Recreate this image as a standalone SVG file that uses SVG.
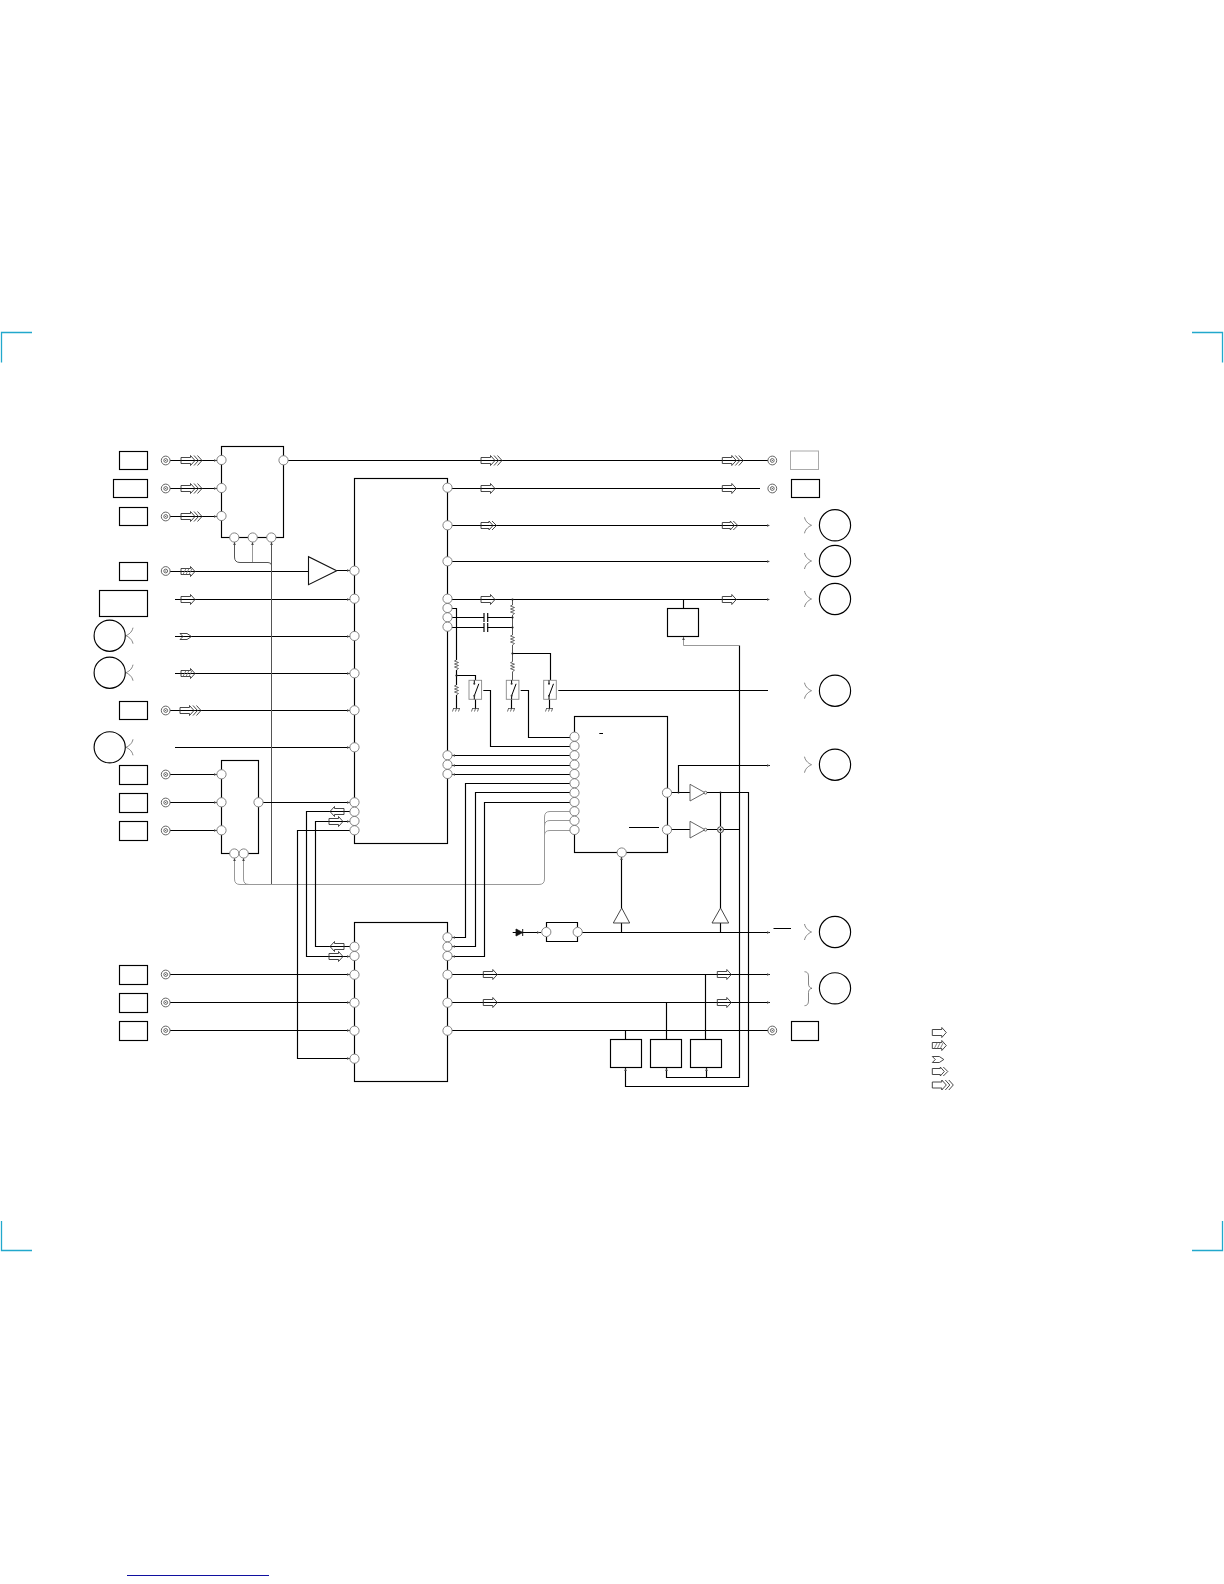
<svg xmlns="http://www.w3.org/2000/svg" xmlns:xlink="http://www.w3.org/1999/xlink" width="1224" height="1584" viewBox="0 0 1224 1584">
<style>
.w{fill:none;stroke:#000;stroke-width:1.15}
.g{fill:none;stroke:#999;stroke-width:1}
.gd{fill:none;stroke:#555;stroke-width:1}
.b{fill:#fff;stroke:#111;stroke-width:1.1}
.bx{fill:none;stroke:#000;stroke-width:1.15}
.p{fill:#fff;stroke:#777;stroke-width:.9}
.a{fill:none;stroke:#333;stroke-width:.9}
.h{fill:none;stroke:#666;stroke-width:.8}
.j{fill:#fff;stroke:#555;stroke-width:.9}
.c{fill:none;stroke:#22a8cc;stroke-width:1.3}
.r{fill:none;stroke:#444;stroke-width:.8}
.s{fill:#fff;stroke:#888;stroke-width:.9}
.t{fill:#444}
.d{fill:#222}
</style>
<defs>
<g id="pin"><circle r="4.6" class="p"/></g>
<g id="jack"><circle r="4.4" class="j"/><circle r="1.9" class="j"/><circle r=".6" fill="#333"/></g>
<path id="a1" class="a" d="M0,-3H9.5V-5L14,0L9.5,5V3H0Z"/>
<g id="a1h"><use xlink:href="#a1"/><path class="h" d="M2,3L5,-3M5,3L8,-3M8,3L11,-3"/></g>
<path id="a1n" class="a" d="M0,-3H7L11.5,0L7,3H0L3,0Z"/>
<g id="a2"><path class="a" d="M0,-3H8V-4.5L12,0L8,4.5V3H0Z"/><path class="a" d="M11,-4.5L15.5,0L11,4.5"/></g>
<g id="a3"><path class="a" d="M0,-3H9.5V-5L14,0L9.5,5V3H0Z"/><path class="a" d="M13,-5L17.5,0L13,5M16.5,-5L21,0L16.5,5"/></g>
<path id="al" class="a" d="M14,-3H4.5V-5L0,0L4.5,5V3H14Z"/>
<path id="res" class="r" d="M0,-5L-2,-4L2,-2.5L-2,-1L2,.5L-2,2L2,3.5L0,5"/>
<path id="gnd" class="r" d="M-3.5,0H3.5M-3,0L-4,3M0,0L-1,3M3,0L2,3"/>
<path id="bl" fill="none" stroke="#666" stroke-width=".8" d="M7,-8C6,-3 2,-1 0,0C2,1 6,3 7,8"/>
<path id="br" fill="none" stroke="#666" stroke-width=".8" d="M0,-8C1,-3 5,-1 7,0C5,1 1,3 0,8"/>
<g id="sw"><rect x="-6.3" y="-9.5" width="12.6" height="19" class="s"/><path d="M-1,-9.5V-6M-1,6V9.5M-1,6L3.5,-6" fill="none" stroke="#000" stroke-width="1"/><circle cx="-1" cy="-6" r="1" fill="#333"/><circle cx="-1" cy="6" r="1" fill="#333"/></g>
<path id="tr" class="t" d="M-3,-1.3L0,0L-3,1.3Z"/>
<path id="tl" class="t" d="M3,-1.3L0,0L3,1.3Z"/>
<path id="tu" class="t" d="M-1.3,3L0,0L1.3,3Z"/>
</defs>

<g id="crop-marks">
<path class="c" d="M1.5,362.5V332.5H32"/>
<path class="c" d="M1.5,1221V1250.5H32"/>
<path class="c" d="M1222.5,362.5V332.5H1192"/>
<path class="c" d="M1222.5,1221V1250.5H1192"/>
</g>
<path id="page-rule" d="M127,1575.5H269" fill="none" stroke="#1010a0" stroke-width="1.1"/>

<g id="connectors">
<path class="w" d="M165.7,460.5H218M165.7,488.5H218M165.7,516.5H218"/>
<path class="w" d="M283.5,460.5H772M447.5,488.5H760M447.5,525.5H769M447.5,561.5H769M447.5,599.5H769"/>
<path class="w" d="M165.7,571.5H308M175,599.5H351M175,636.5H351M175,673.5H351M165.7,710.5H351M175,747.5H351M336.7,570.5H351"/>
<path class="gd" d="M271.5,541V884.5M234.5,541V557Q234.5,562.5 240,562.5H268Q271,562.5 271.5,565"/>
<path class="g" d="M252.5,541V562"/>
<path class="g" d="M234.5,857V879Q234.5,884.5 240,884.5H539Q544.5,884.5 544.5,879V817Q544.5,811.5 550,811.5H570M243.5,857V879Q243.5,884.5 249,884.5M544.5,826Q544.5,820.5 550,820.5H570M544.5,835Q544.5,830.5 550,830.5H570"/>
<path class="w" d="M165.7,774.5H218M165.7,802.5H218M165.7,830.5H218M258.5,802.5H351"/>
<path class="w" d="M351,811.5H306.5V956.5H351M351,821.5H315.5V946.5H351M351,830.5H297.5V1058.5H351"/>
<path class="w" d="M165.7,974.5H351M165.7,1002.5H351M165.7,1030.5H351"/>
<path class="w" d="M447.5,974.5H770M447.5,1002.5H770M447.5,1030.5H772"/>
<path class="w" d="M447.5,608.5H456.5V660M447.5,617.5H484M447.5,627.5H484M487.5,617.5H512.5M487.5,627.5H512.5M456.5,670V685M456.5,695V708.5M456.5,675.5H475.5V680"/>
<path class="gd" d="M512.5,599.5V605M512.5,615V635M512.5,645V661.7M512.5,671.7V680"/>
<path class="w" d="M512.5,653.5H550.5V680"/>
<path class="w" d="M483.3,690.5H490.5V746.5H570M520.7,690.5H528.5V737.5H570M558.3,690.5H768"/>
<path class="w" d="M450,755.5H570M450,765.5H570M450,774.5H570"/>
<path class="w" d="M570,783.5H465.5V937.5H450M570,792.5H475.5V946.5H450M570,802.5H484.5V956.5H450"/>
<path class="w" d="M599.3,733.5H603M629,827.5H659"/>
<path class="w" d="M667,792.5H690M667,829.5H690M707,792.5H748.5V1086.5H625.5V1068M707,829.5H717M723.3,829.5H739"/>
<path class="w" d="M678.5,792.5V765.5H770"/>
<path class="w" d="M739.5,645.5V1077.5H666.5V1068M706.5,1077.5V1068"/>
<path class="g" d="M739.5,645.5H683.5V637"/>
<path class="w" d="M683.5,608V599.5"/>
<path class="w" d="M720.5,792.5V826M720.5,833V908M720.5,923V932.5M621.5,857V908M621.5,923V932.5"/>
<path class="w" d="M581.7,932.5H770M773.5,928.5H791M512.7,932.5H541"/>
<path class="w" d="M625.5,1039.3V1030.5M666.5,1039.3V1002.5M705.5,1039.3V974.5"/>
<g id="tips">
<use xlink:href="#tr" x="217" y="460.5"/><use xlink:href="#tr" x="217" y="488.5"/><use xlink:href="#tr" x="217" y="516.5"/>
<use xlink:href="#tr" x="217" y="774.5"/><use xlink:href="#tr" x="217" y="802.5"/><use xlink:href="#tr" x="217" y="830.5"/>
<use xlink:href="#tr" x="350" y="570.5"/><use xlink:href="#tr" x="350" y="599.5"/><use xlink:href="#tr" x="350" y="636.5"/><use xlink:href="#tr" x="350" y="673.5"/><use xlink:href="#tr" x="350" y="710.5"/><use xlink:href="#tr" x="350" y="747.5"/>
<use xlink:href="#tr" x="350" y="802.5"/><use xlink:href="#tr" x="350" y="821.5"/><use xlink:href="#tr" x="350" y="956.5"/><use xlink:href="#tr" x="350" y="974.5"/><use xlink:href="#tr" x="350" y="1002.5"/><use xlink:href="#tr" x="350" y="1030.5"/><use xlink:href="#tr" x="350" y="1058.5"/>
<use xlink:href="#tr" x="540" y="932.5"/><use xlink:href="#tr" x="770" y="525.5"/><use xlink:href="#tr" x="770" y="561.5"/><use xlink:href="#tr" x="770" y="599.5"/><use xlink:href="#tr" x="770" y="765.5"/><use xlink:href="#tr" x="770" y="932.5"/><use xlink:href="#tr" x="770" y="974.5"/><use xlink:href="#tr" x="770" y="1002.5"/>
<use xlink:href="#tl" x="452" y="755.5"/><use xlink:href="#tl" x="452" y="765.5"/><use xlink:href="#tl" x="452" y="774.5"/><use xlink:href="#tl" x="452" y="937.5"/><use xlink:href="#tl" x="452" y="946.5"/><use xlink:href="#tl" x="452" y="956.5"/>
<use xlink:href="#tu" x="234.5" y="542"/><use xlink:href="#tu" x="252.5" y="542"/><use xlink:href="#tu" x="271.5" y="542"/><use xlink:href="#tu" x="234.5" y="858"/><use xlink:href="#tu" x="243.5" y="858"/>
<use xlink:href="#tu" x="621.5" y="857"/><use xlink:href="#tu" x="683.5" y="637"/><use xlink:href="#tu" x="625.5" y="1068"/><use xlink:href="#tu" x="666.5" y="1068"/><use xlink:href="#tu" x="706.5" y="1068"/>
</g>
</g>

<g id="signal-arrows">
<use xlink:href="#a3" x="181" y="460.5"/><use xlink:href="#a3" x="181" y="488.5"/><use xlink:href="#a3" x="181" y="516.5"/>
<use xlink:href="#a1h" x="181" y="571.5"/><use xlink:href="#a1" x="181" y="599.5"/><use xlink:href="#a1n" x="180" y="636.5"/><use xlink:href="#a1h" x="181" y="673.5"/><use xlink:href="#a3" x="180" y="710.5"/>
<use xlink:href="#a3" x="481" y="460.5"/><use xlink:href="#a3" x="722.3" y="460.5"/><use xlink:href="#a1" x="481" y="488.5"/><use xlink:href="#a1" x="722.3" y="488.5"/>
<use xlink:href="#a2" x="481" y="525.5"/><use xlink:href="#a2" x="722.3" y="525.5"/><use xlink:href="#a1" x="481" y="599.5"/><use xlink:href="#a1" x="722.3" y="599.5"/>
<use xlink:href="#al" x="330" y="811.5"/><use xlink:href="#a1" x="329" y="821.5"/><use xlink:href="#al" x="330" y="946.5"/><use xlink:href="#a1" x="329" y="956.5"/>
<use xlink:href="#a1" x="483.3" y="974.5"/><use xlink:href="#a1" x="483.3" y="1002.5"/><use xlink:href="#a1" x="717.3" y="974.5"/><use xlink:href="#a1" x="717.3" y="1002.5"/>
</g>

<g id="legend">
<use xlink:href="#a1" x="932.3" y="1032.5"/><use xlink:href="#a1h" x="932.3" y="1045.5"/><use xlink:href="#a1n" x="932.3" y="1059.5"/><use xlink:href="#a2" x="932.3" y="1071.5"/><use xlink:href="#a3" x="932.3" y="1085"/>
</g>

<g id="left-terminals">
<rect class="bx" x="119.5" y="451.5" width="28" height="18"/>
<rect class="bx" x="113.5" y="479.5" width="34" height="18"/>
<rect class="bx" x="119.5" y="507.5" width="28" height="18"/>
<rect class="bx" x="119.5" y="562.5" width="28" height="18"/>
<rect class="bx" x="99.5" y="590.5" width="48" height="26"/>
<rect class="bx" x="119.5" y="701.5" width="28" height="18"/>
<rect class="bx" x="119.5" y="765.5" width="28" height="19"/>
<rect class="bx" x="119.5" y="793.5" width="28" height="19"/>
<rect class="bx" x="119.5" y="821.5" width="28" height="19"/>
<rect class="bx" x="119.5" y="965.5" width="28" height="19"/>
<rect class="bx" x="119.5" y="993.5" width="28" height="19"/>
<rect class="bx" x="119.5" y="1021.5" width="28" height="19"/>
<circle class="bx" cx="109.7" cy="635.7" r="15.6"/><use xlink:href="#bl" x="126" y="635.7"/>
<circle class="bx" cx="109.7" cy="672.7" r="15.6"/><use xlink:href="#bl" x="126" y="672.7"/>
<circle class="bx" cx="109.7" cy="747.3" r="15.6"/><use xlink:href="#bl" x="126" y="747.3"/>
<use xlink:href="#jack" x="165.7" y="460.5"/><use xlink:href="#jack" x="165.7" y="488.5"/><use xlink:href="#jack" x="165.7" y="516.5"/><use xlink:href="#jack" x="165.7" y="571"/><use xlink:href="#jack" x="165.7" y="710.5"/>
<use xlink:href="#jack" x="165.7" y="774.5"/><use xlink:href="#jack" x="165.7" y="802.5"/><use xlink:href="#jack" x="165.7" y="830.5"/><use xlink:href="#jack" x="165.7" y="974.5"/><use xlink:href="#jack" x="165.7" y="1002.5"/><use xlink:href="#jack" x="165.7" y="1030.5"/>
</g>

<g id="box-a">
<rect class="bx" x="221.5" y="446.5" width="62" height="91"/>
<use xlink:href="#pin" x="221.5" y="460"/><use xlink:href="#pin" x="221.5" y="488"/><use xlink:href="#pin" x="221.5" y="516"/><use xlink:href="#pin" x="283.5" y="460.3"/>
<use xlink:href="#pin" x="234.3" y="537.5"/><use xlink:href="#pin" x="252.7" y="537.5"/><use xlink:href="#pin" x="271.3" y="537.5"/>
</g>

<g id="box-b">
<rect class="bx" x="221.5" y="760.5" width="37" height="93"/>
<use xlink:href="#pin" x="221.5" y="774.3"/><use xlink:href="#pin" x="221.5" y="802.3"/><use xlink:href="#pin" x="221.5" y="830.3"/><use xlink:href="#pin" x="258.5" y="802.3"/>
<use xlink:href="#pin" x="234.3" y="853.5"/><use xlink:href="#pin" x="243.7" y="853.5"/>
</g>

<path id="amp" class="b" d="M308.5,556.7V584.7L336.7,570.7Z"/>

<g id="ic-1">
<rect class="bx" x="354.5" y="478.5" width="93" height="365"/>
<use xlink:href="#pin" x="354.5" y="570.7"/><use xlink:href="#pin" x="354.5" y="598.7"/><use xlink:href="#pin" x="354.5" y="636"/><use xlink:href="#pin" x="354.5" y="673.3"/><use xlink:href="#pin" x="354.5" y="710.3"/><use xlink:href="#pin" x="354.5" y="747.3"/>
<use xlink:href="#pin" x="354.5" y="802.3"/><use xlink:href="#pin" x="354.5" y="811.7"/><use xlink:href="#pin" x="354.5" y="821"/><use xlink:href="#pin" x="354.5" y="830.3"/>
<use xlink:href="#pin" x="447.5" y="487.7"/><use xlink:href="#pin" x="447.5" y="525.3"/><use xlink:href="#pin" x="447.5" y="561.3"/><use xlink:href="#pin" x="447.5" y="598.7"/><use xlink:href="#pin" x="447.5" y="608"/><use xlink:href="#pin" x="447.5" y="617.3"/><use xlink:href="#pin" x="447.5" y="626.7"/>
<use xlink:href="#pin" x="447.5" y="755.3"/><use xlink:href="#pin" x="447.5" y="764.7"/><use xlink:href="#pin" x="447.5" y="774"/>
</g>

<g id="ic-2">
<rect class="bx" x="354.5" y="922.5" width="93" height="159"/>
<use xlink:href="#pin" x="354.5" y="946.7"/><use xlink:href="#pin" x="354.5" y="956"/><use xlink:href="#pin" x="354.5" y="974.7"/><use xlink:href="#pin" x="354.5" y="1002.7"/><use xlink:href="#pin" x="354.5" y="1030.7"/><use xlink:href="#pin" x="354.5" y="1058.7"/>
<use xlink:href="#pin" x="447.5" y="937.3"/><use xlink:href="#pin" x="447.5" y="946.7"/><use xlink:href="#pin" x="447.5" y="956"/><use xlink:href="#pin" x="447.5" y="974.7"/><use xlink:href="#pin" x="447.5" y="1002.7"/><use xlink:href="#pin" x="447.5" y="1030.7"/>
</g>

<g id="passives">
<use xlink:href="#res" x="456.5" y="665"/><use xlink:href="#res" x="456.5" y="690"/>
<use xlink:href="#res" x="512.5" y="610"/><use xlink:href="#res" x="512.5" y="640"/><use xlink:href="#res" x="512.5" y="666.7"/>
<path class="w" d="M484,613V622M487.7,613V622M484,623V632M487.7,623V632"/>
<use xlink:href="#gnd" x="456.5" y="708.5"/><use xlink:href="#gnd" x="475.5" y="708.5"/><use xlink:href="#gnd" x="511.5" y="708.5"/><use xlink:href="#gnd" x="549.5" y="708.5"/>
<path class="w" d="M475.5,699V708.5M511.5,699V708.5M549.5,699V708.5"/>
<circle cx="512.5" cy="599.5" r="1.1" class="d"/><circle cx="512.5" cy="617.5" r="1.1" class="d"/><circle cx="512.5" cy="627.5" r="1.1" class="d"/><circle cx="512.5" cy="653.5" r="1.1" class="d"/><circle cx="456.5" cy="675.5" r="1.1" class="d"/>
</g>

<g id="switch-1"><use xlink:href="#sw" x="475.3" y="689.8"/></g>
<g id="switch-2"><use xlink:href="#sw" x="512.6" y="689.8"/></g>
<g id="switch-3"><use xlink:href="#sw" x="550" y="689.8"/></g>

<g id="ic-3">
<rect class="bx" x="574.5" y="716.5" width="93" height="136"/>
<use xlink:href="#pin" x="574.5" y="736.7"/><use xlink:href="#pin" x="574.5" y="746"/><use xlink:href="#pin" x="574.5" y="755.3"/><use xlink:href="#pin" x="574.5" y="764.7"/><use xlink:href="#pin" x="574.5" y="774"/><use xlink:href="#pin" x="574.5" y="783.3"/><use xlink:href="#pin" x="574.5" y="792.7"/><use xlink:href="#pin" x="574.5" y="802"/><use xlink:href="#pin" x="574.5" y="811.3"/><use xlink:href="#pin" x="574.5" y="820.7"/><use xlink:href="#pin" x="574.5" y="830"/>
<use xlink:href="#pin" x="667" y="792.7"/><use xlink:href="#pin" x="667" y="829.7"/><use xlink:href="#pin" x="621.7" y="852.5"/>
</g>

<g id="box-d"><rect class="bx" x="667.5" y="608.5" width="31" height="28"/></g>

<g id="inverters">
<path fill="#fff" stroke="#555" stroke-width=".9" d="M690,784.3V801L705,792.7Z"/><circle cx="705.5" cy="792.7" r="1.4" fill="#fff" stroke="#333" stroke-width=".7"/>
<path fill="#fff" stroke="#555" stroke-width=".9" d="M690,821.3V838L705,829.7Z"/><circle cx="705.5" cy="829.7" r="1.4" fill="#fff" stroke="#333" stroke-width=".7"/>
<circle cx="720.5" cy="829.7" r="3" fill="#fff" stroke="#222" stroke-width=".9"/><path d="M718.7,829.7H722.3M720.5,828V831.5" stroke="#111" stroke-width=".9"/>
<circle cx="720.5" cy="792.5" r="1" class="d"/><circle cx="678.5" cy="792.5" r="1" class="d"/>
</g>
<g id="buffer-1"><path fill="#fff" stroke="#333" stroke-width=".9" d="M621.7,908L613.3,923H629.7Z"/></g>
<g id="buffer-2"><path fill="#fff" stroke="#333" stroke-width=".9" d="M720.5,908L712,923H728.7Z"/></g>

<g id="diode"><path d="M516,929V936L522.7,932.5Z" fill="#111" stroke="#111" stroke-width=".8"/><path d="M522.7,929V936" stroke="#111" stroke-width="1"/></g>
<g id="box-e">
<path class="bx" d="M546.5,927V922.5H577.5V927M546.5,937V941.5H577.5V937"/>
<use xlink:href="#pin" x="546.3" y="932"/><use xlink:href="#pin" x="577.7" y="932"/>
</g>

<g id="box-f"><rect class="bx" x="610.5" y="1039.5" width="31" height="28"/></g>
<g id="box-g"><rect class="bx" x="650.5" y="1039.5" width="31" height="28"/></g>
<g id="box-h"><rect class="bx" x="690.5" y="1039.5" width="31" height="28"/></g>

<g id="right-terminals">
<use xlink:href="#jack" x="772.3" y="460.5"/><use xlink:href="#jack" x="772.3" y="488.5"/><use xlink:href="#jack" x="772.3" y="1030.5"/>
<rect x="790.5" y="451" width="28" height="18.5" fill="none" stroke="#aaa" stroke-width="1"/>
<rect class="bx" x="791.5" y="479.5" width="28" height="18"/>
<rect class="bx" x="791.5" y="1021.5" width="27" height="19"/>
<circle class="bx" cx="835" cy="525.3" r="15.6"/><use xlink:href="#br" x="804.5" y="525.3"/>
<circle class="bx" cx="835" cy="561" r="15.6"/><use xlink:href="#br" x="804.5" y="561"/>
<circle class="bx" cx="835" cy="599" r="15.6"/><use xlink:href="#br" x="804.5" y="599"/>
<circle class="bx" cx="835" cy="690.7" r="15.6"/><use xlink:href="#br" x="804.5" y="690.7"/>
<circle class="bx" cx="835" cy="764.7" r="15.6"/><use xlink:href="#br" x="804.5" y="764.7"/>
<circle class="bx" cx="835" cy="932" r="15.6"/><use xlink:href="#br" x="804.5" y="932"/>
<circle class="bx" cx="835" cy="988.3" r="15.6"/>
<path fill="none" stroke="#666" stroke-width=".8" d="M804.5,971.7C808,972 808.5,974 808.5,977V984C808.5,986.5 810,988 812,988.3C810,988.6 808.5,990 808.5,992.5V1000C808.5,1003 808,1005.5 804.5,1005.7"/>
</g>
</svg>
